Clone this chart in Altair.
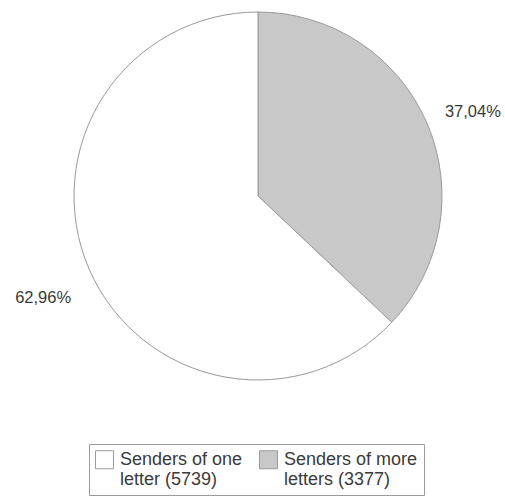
import altair as alt
import pandas as pd

# Letter senders split by number of letters sent
categories = ["Senders of more|letters (3377)", "Senders of one|letter (5739)"]
counts = [3377, 5739]
pct_labels = ["37,04%", "62,96%"]
colors = ["#c8c8c8", "#ffffff"]

df = pd.DataFrame({
    "group": categories,
    "count": counts,
    "pct": pct_labels,
    "order": [0, 1],
})

cx, cy, r = 258, 196, 184

base = alt.Chart(df).encode(
    theta=alt.Theta("count:Q", stack=True),
    order=alt.Order("order:Q"),
)

pie = base.mark_arc(
    outerRadius=r, stroke="#9a9a9a", strokeWidth=1
).encode(
    x=alt.value(cx),
    y=alt.value(cy),
    color=alt.Color(
        "group:N",
        sort=[categories[1], categories[0]],
        scale=alt.Scale(domain=[categories[1], categories[0]],
                        range=[colors[1], colors[0]]),
        legend=alt.Legend(
            title=None,
            orient="none",
            legendX=89,
            legendY=444,
            direction="horizontal",
            columns=2,
            symbolType="square",
            symbolSize=324,
            symbolStrokeColor="#9a9a9a",
            symbolStrokeWidth=1,
            symbolOpacity=1,
            labelExpr="split(datum.label, '|')",
            labelFont="Liberation Sans",
            labelFontSize=18,
            labelColor="#3a3a3a",
            labelLimit=300,
            labelOffset=6,
            columnPadding=14,
            padding=6,
            strokeColor="#9a9a9a",
            fillColor="#ffffff",
        ),
    ),
)

labels = base.mark_text(
    radius=234, dy=9, font="Liberation Sans", fontSize=16.5, color="#3a3a3a"
).encode(
    x=alt.value(cx),
    y=alt.value(cy),
    text="pct:N",
)

chart = (pie + labels).properties(
    width=505, height=498, autosize=alt.AutoSizeParams(type="none"),
    padding=0,
).configure_view(stroke=None)

chart.save("out.html", embed_options={"renderer": "svg", "actions": False})
